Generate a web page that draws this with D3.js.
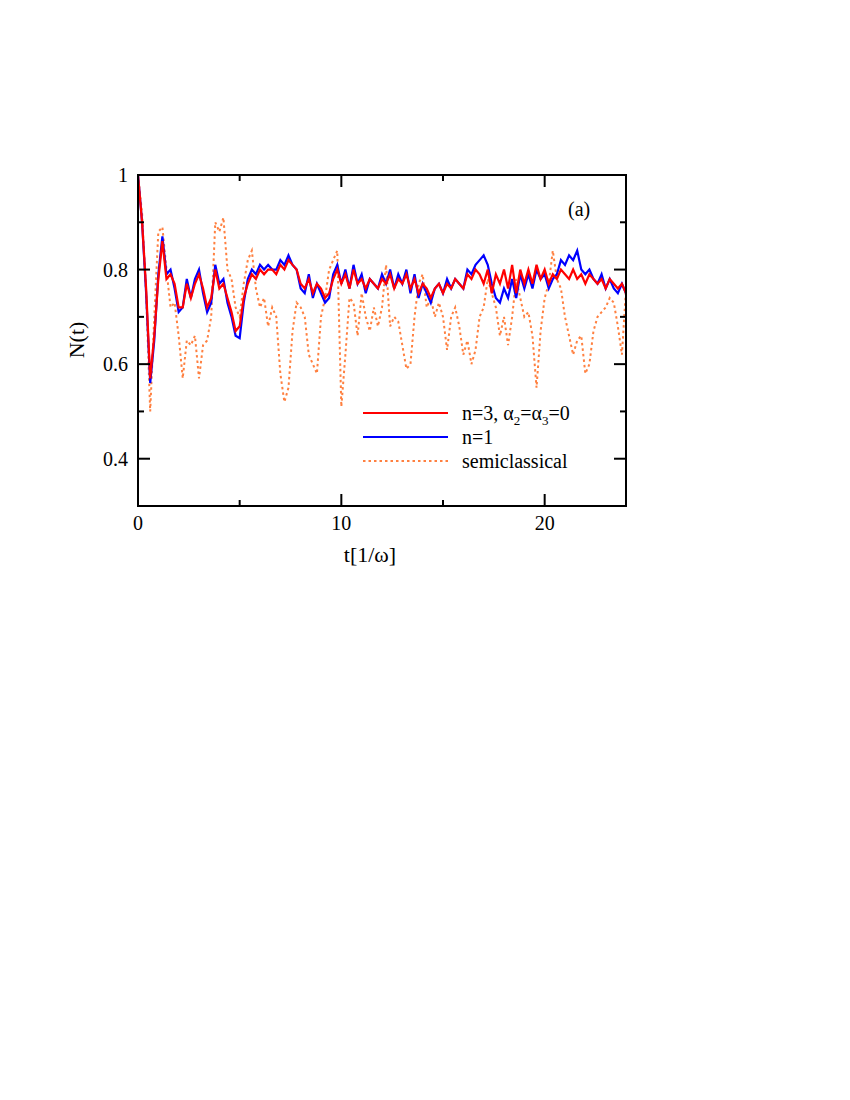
<!DOCTYPE html><html><head><meta charset="utf-8"><script src="https://cdn.jsdelivr.net/npm/d3@7"></script>
<style>body{margin:0;background:#fff}text{font-family:"Liberation Serif",serif}</style></head><body><svg id="c" width="850" height="1100"></svg>
<script>
const dt = 0.2;
const red = [1.0,0.9,0.76,0.57,0.66,0.78,0.86,0.78,0.79,0.77,0.72,0.72,0.77,0.74,0.77,0.79,0.76,0.72,0.74,0.8,0.76,0.77,0.74,0.71,0.67,0.68,0.74,0.77,0.79,0.78,0.8,0.79,0.8,0.8,0.79,0.81,0.8,0.82,0.81,0.8,0.77,0.76,0.78,0.75,0.77,0.76,0.74,0.75,0.78,0.8,0.77,0.79,0.76,0.8,0.77,0.78,0.76,0.78,0.77,0.76,0.78,0.77,0.79,0.76,0.78,0.77,0.79,0.76,0.78,0.75,0.77,0.76,0.74,0.76,0.77,0.75,0.77,0.76,0.78,0.77,0.76,0.79,0.78,0.8,0.79,0.77,0.8,0.75,0.79,0.77,0.8,0.76,0.81,0.75,0.8,0.77,0.8,0.77,0.81,0.78,0.8,0.77,0.79,0.78,0.8,0.79,0.78,0.8,0.78,0.79,0.77,0.79,0.78,0.77,0.78,0.76,0.78,0.77,0.76,0.77,0.75];
const blue = [1.0,0.9,0.75,0.56,0.65,0.79,0.87,0.79,0.8,0.76,0.71,0.72,0.78,0.74,0.78,0.8,0.75,0.71,0.73,0.81,0.77,0.78,0.73,0.7,0.66,0.655,0.73,0.78,0.8,0.79,0.81,0.8,0.81,0.8,0.8,0.82,0.81,0.83,0.81,0.8,0.76,0.75,0.79,0.74,0.77,0.75,0.73,0.74,0.79,0.81,0.77,0.8,0.76,0.81,0.77,0.79,0.75,0.78,0.77,0.76,0.79,0.77,0.8,0.76,0.79,0.77,0.8,0.75,0.79,0.74,0.77,0.75,0.73,0.76,0.77,0.75,0.78,0.76,0.78,0.77,0.76,0.8,0.79,0.81,0.82,0.83,0.81,0.77,0.74,0.73,0.76,0.74,0.78,0.74,0.79,0.76,0.79,0.76,0.8,0.78,0.79,0.76,0.78,0.79,0.82,0.81,0.83,0.82,0.84,0.8,0.79,0.8,0.78,0.77,0.79,0.76,0.78,0.76,0.75,0.77,0.75];
const semi = [1,0.92,0.75,0.5,0.7,0.88,0.89,0.8,0.72,0.73,0.66,0.57,0.65,0.64,0.66,0.57,0.64,0.65,0.7,0.9,0.88,0.91,0.8,0.78,0.72,0.7,0.77,0.82,0.84,0.76,0.72,0.74,0.68,0.72,0.7,0.58,0.52,0.55,0.67,0.73,0.72,0.7,0.62,0.6,0.58,0.7,0.74,0.8,0.82,0.84,0.51,0.62,0.74,0.73,0.66,0.75,0.7,0.67,0.72,0.68,0.72,0.81,0.68,0.7,0.69,0.64,0.59,0.6,0.7,0.77,0.79,0.72,0.74,0.7,0.73,0.7,0.63,0.7,0.72,0.68,0.62,0.65,0.6,0.63,0.7,0.72,0.78,0.75,0.72,0.66,0.7,0.64,0.7,0.78,0.74,0.7,0.71,0.66,0.55,0.67,0.74,0.77,0.84,0.78,0.76,0.7,0.66,0.62,0.65,0.66,0.58,0.6,0.67,0.7,0.71,0.72,0.74,0.73,0.68,0.62,0.76];
const xTicks = [0,10,20], yTicks = [0.4,0.6,0.8,1];
const svg = d3.select("#c");
const x = d3.scaleLinear().domain([0,24]).range([138,626]);
const y = d3.scaleLinear().domain([0.3,1]).range([506,175]);
const clip = svg.append("clipPath").attr("id","cp").append("rect").attr("x",138).attr("y",175).attr("width",488).attr("height",331);
const line = d3.line().x((d,i)=>x(i*dt)).y(d=>y(d));
const g = svg.append("g").attr("clip-path","url(#cp)");
g.append("path").attr("d",line(semi)).attr("fill","none").attr("stroke","#ff8040").attr("stroke-width",2).attr("stroke-dasharray","2.5,3");
g.append("path").attr("d",line(blue)).attr("fill","none").attr("stroke","#0000ff").attr("stroke-width",2.2);
g.append("path").attr("d",line(red)).attr("fill","none").attr("stroke","#ff0000").attr("stroke-width",2.2);
svg.append("rect").attr("x",138).attr("y",175).attr("width",488).attr("height",331).attr("fill","none").attr("stroke","#000").attr("stroke-width",2);
const minorX = d3.range(0,25,5), minorY = d3.range(0.3,1.001,0.1);
minorX.forEach(t=>{const big=t%10===0;const L=big?12:6;
 svg.append("line").attr("x1",x(t)).attr("x2",x(t)).attr("y1",506).attr("y2",506-L).attr("stroke","#000").attr("stroke-width",2);
 svg.append("line").attr("x1",x(t)).attr("x2",x(t)).attr("y1",175).attr("y2",175+L).attr("stroke","#000").attr("stroke-width",2);});
minorY.forEach(v=>{const big=Math.round(v*10)%2===0;const L=big?12:6;
 svg.append("line").attr("x1",138).attr("x2",138+L).attr("y1",y(v)).attr("y2",y(v)).attr("stroke","#000").attr("stroke-width",2);
 svg.append("line").attr("x1",626).attr("x2",626-L).attr("y1",y(v)).attr("y2",y(v)).attr("stroke","#000").attr("stroke-width",2);});
xTicks.forEach(t=>svg.append("text").attr("x",x(t)).attr("y",530).attr("text-anchor","middle").attr("font-size",20).text(t));
yTicks.forEach(v=>svg.append("text").attr("x",128).attr("y",y(v)+7).attr("text-anchor","end").attr("font-size",20).text(v));
svg.append("text").attr("x",370).attr("y",562).attr("text-anchor","middle").attr("font-size",22).text("t[1/ω]");
svg.append("text").attr("transform","translate(84,340) rotate(-90)").attr("text-anchor","middle").attr("font-size",22).text("N(t)");
svg.append("text").attr("x",568).attr("y",216).attr("font-size",20).text("(a)");
const leg=[["#ff0000",null,413],["#0000ff",null,437],["#ff8040","2.5,3",461]];
leg.forEach(l=>{const ln=svg.append("line").attr("x1",363).attr("x2",448).attr("y1",l[2]).attr("y2",l[2]).attr("stroke",l[0]).attr("stroke-width",2.2);if(l[1])ln.attr("stroke-dasharray",l[1]);});
const t1=svg.append("text").attr("x",462).attr("y",420).attr("font-size",20);
t1.append("tspan").text("n=3, α");t1.append("tspan").attr("font-size",13).attr("dy",5).text("2");
t1.append("tspan").attr("dy",-5).text("=α");t1.append("tspan").attr("font-size",13).attr("dy",5).text("3");
t1.append("tspan").attr("dy",-5).text("=0");
svg.append("text").attr("x",462).attr("y",444).attr("font-size",20).text("n=1");
svg.append("text").attr("x",462).attr("y",468).attr("font-size",20).text("semiclassical");
</script></body></html>
